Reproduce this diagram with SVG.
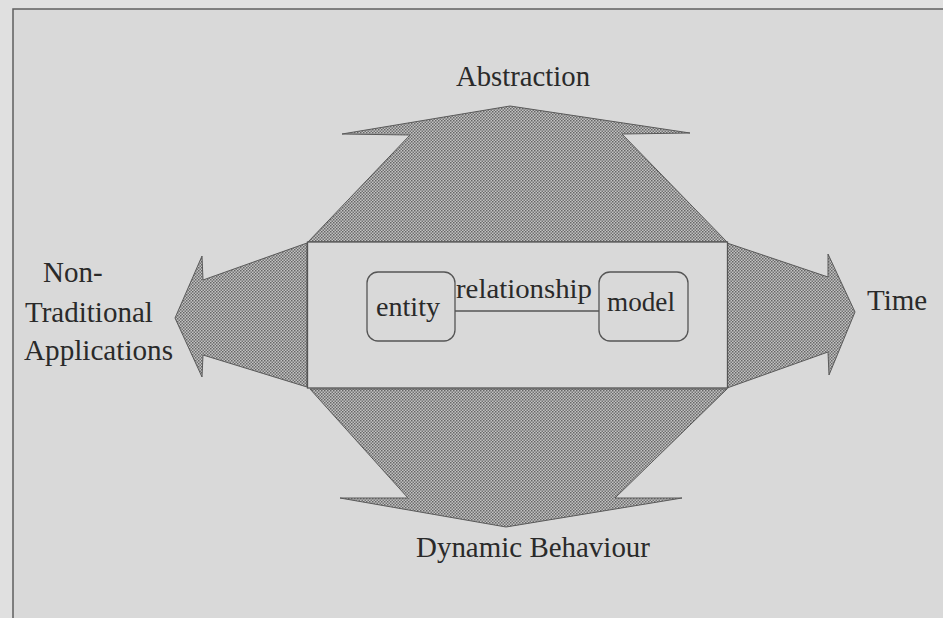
<svg xmlns="http://www.w3.org/2000/svg" width="943" height="618" viewBox="0 0 943 618">
  <defs>
    <!-- fine checker dither used for the arrow fills -->
    <pattern id="dither" width="3" height="3" patternUnits="userSpaceOnUse">
      <rect width="3" height="3" fill="#c2c2c2"/>
      <rect x="0" y="0" width="1.5" height="1.5" fill="#666"/>
      <rect x="1.5" y="1.5" width="1.5" height="1.5" fill="#737373"/>
    </pattern>
    <style>
      .arrow { fill: url(#dither); stroke: #5a5a5a; stroke-width: 1; stroke-linejoin: miter; }
      .box { fill: #d9d9d9; stroke: #555; stroke-width: 1.3; }
      text { font-family: 'Liberation Serif', 'Times New Roman', Times, serif; fill: #2a2a2a; }
      .lbl { font-size: 29px; }
      .inner { font-size: 28px; }
      .link { stroke: #555; stroke-width: 1.3; fill: none; }
    </style>
  </defs>

  <!-- page and frame -->
  <rect width="943" height="618" fill="#e0e0e0"/>
  <rect x="13" y="9" width="940" height="620" fill="#d9d9d9" stroke="#5f5f5f" stroke-width="1.5"/>

  <!-- four directional arrows around the central box -->
  <g id="arrow-abstraction">
    <polygon class="arrow" points="308,242 410,135 342,134 510,106 690,133 622,134 727,242"/>
  </g>
  <g id="arrow-nontraditional">
    <polygon class="arrow" points="307,243 203,280 202,256 175,318 202,377 203,355 307,387"/>
  </g>
  <g id="arrow-time">
    <polygon class="arrow" points="727,243 828,277 828,254 855,312 829,375 828,352 727,388"/>
  </g>
  <g id="arrow-dynamic">
    <polygon class="arrow" points="310,389 408,498 340,498 506,527 682,498 615,498 727,389"/>
  </g>

  <!-- central panel -->
  <g id="er-panel">
    <rect class="box" x="307.5" y="242" width="420" height="146"/>
  </g>

  <!-- connectors -->
  <g id="connectors">
    <line class="link" x1="455" y1="311" x2="599" y2="311"/>
  </g>

  <g id="entity">
    <rect class="box" x="367" y="272" width="88" height="69" rx="11"/>
    <text class="inner" x="376" y="316" textLength="64" lengthAdjust="spacingAndGlyphs">entity</text>
  </g>
  <g id="model">
    <rect class="box" x="599" y="272" width="89" height="69" rx="11"/>
    <text class="inner" x="607" y="311" textLength="68" lengthAdjust="spacingAndGlyphs">model</text>
  </g>
  <g id="relationship-label">
    <text class="inner" x="456" y="298" textLength="136" lengthAdjust="spacingAndGlyphs">relationship</text>
  </g>

  <!-- axis labels -->
  <g id="label-abstraction">
    <text class="lbl" x="456" y="86" textLength="134" lengthAdjust="spacingAndGlyphs">Abstraction</text>
  </g>
  <g id="label-nontraditional">
    <text class="lbl" x="43" y="282">Non-</text>
    <text class="lbl" x="25" y="322">Traditional</text>
    <text class="lbl" x="24" y="360" textLength="149" lengthAdjust="spacingAndGlyphs">Applications</text>
  </g>
  <g id="label-time">
    <text class="lbl" x="867" y="310">Time</text>
  </g>
  <g id="label-dynamic">
    <text class="lbl" x="416" y="557" textLength="234" lengthAdjust="spacingAndGlyphs">Dynamic Behaviour</text>
  </g>
</svg>
